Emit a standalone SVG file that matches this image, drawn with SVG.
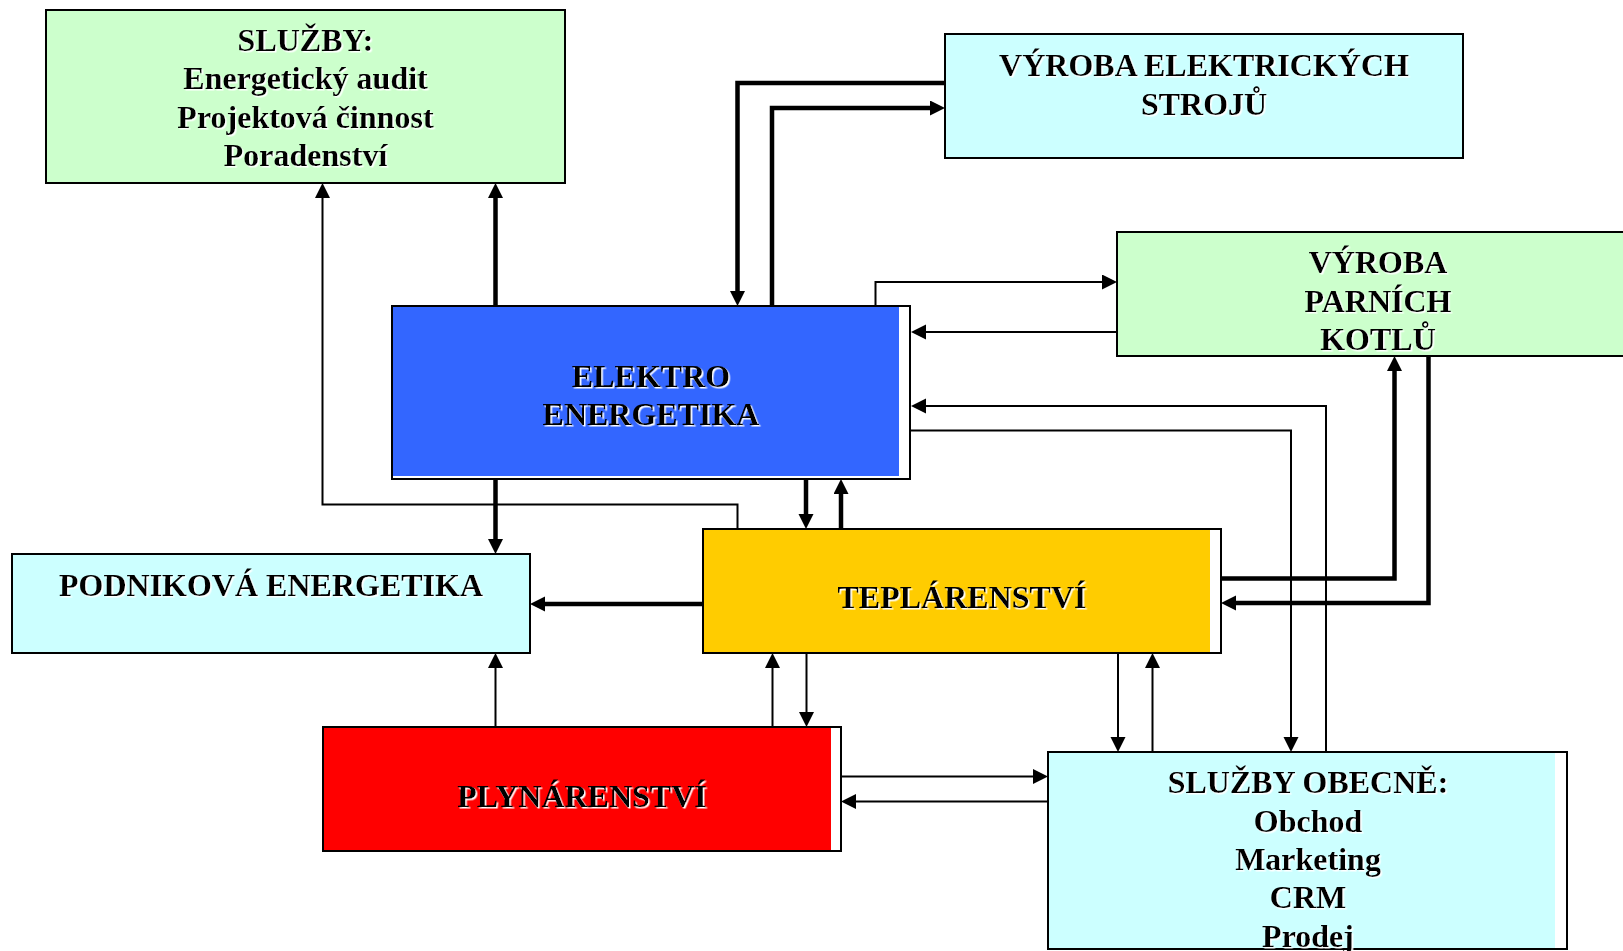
<svg xmlns="http://www.w3.org/2000/svg" width="1623" height="951" viewBox="0 0 1623 951">
<style>
.box{stroke:#000;stroke-width:2}
.t{font-family:"Liberation Serif","Times New Roman",serif;font-weight:bold;font-size:32px;fill:#000;text-anchor:middle;filter:url(#sh)}
.thick{fill:none;stroke:#000;stroke-width:4.5;marker-end:url(#ah)}
.thin{fill:none;stroke:#000;stroke-width:2;marker-end:url(#ah)}
</style>
<defs>
<marker id="ah" markerUnits="userSpaceOnUse" markerWidth="16" markerHeight="16" refX="0" refY="7.5" orient="auto" viewBox="0 0 16 16">
<path d="M0,0 L15,7.5 L0,15 z" fill="#000"/>
</marker>
<filter id="sh" x="-5%" y="-20%" width="110%" height="140%">
<feDropShadow dx="1.5" dy="1.5" stdDeviation="0" flood-color="#fff" flood-opacity="1"/>
</filter>
</defs>
<rect width="1623" height="951" fill="#fff"/>

<g id="connectors">
<path class="thick" d="M495.5,306 V198"/>
<path class="thick" d="M945,83 H737.5 V291"/>
<path class="thick" d="M772,306 V108 H930"/>
<path class="thick" d="M495.5,479 V539"/>
<path class="thick" d="M806,479 V514"/>
<path class="thick" d="M841,529 V494"/>
<path class="thick" d="M703,604 H545"/>
<path class="thick" d="M1221,578.5 H1394.5 V371"/>
<path class="thick" d="M1428.5,356 V603 H1236"/>
<path class="thin" d="M737.5,529 V504.5 H322.5 V198"/>
<path class="thin" d="M875.5,306 V282 H1102"/>
<path class="thin" d="M1117,332 H926"/>
<path class="thin" d="M1326,752 V406 H926"/>
<path class="thin" d="M911,430.5 H1291 V737"/>
<path class="thin" d="M495.5,727 V668"/>
<path class="thin" d="M772.5,727 V668"/>
<path class="thin" d="M806.5,653 V712"/>
<path class="thin" d="M1118,653 V737"/>
<path class="thin" d="M1152.5,752 V668"/>
<path class="thin" d="M841,776.5 H1033"/>
<path class="thin" d="M1048,801.5 H856"/>
</g>

<g id="sluzby">
<rect class="box" x="46" y="10" width="519" height="173" fill="#CCFFCC"/>
<text class="t" x="305.5" y="51">SLUŽBY:</text>
<text class="t" x="305.5" y="89">Energetický audit</text>
<text class="t" x="305.5" y="127.5">Projektová činnost</text>
<text class="t" x="305.5" y="166">Poradenství</text>
</g>

<g id="vyroba-el">
<rect class="box" x="945" y="34" width="518" height="124" fill="#CCFFFF"/>
<text class="t" x="1204" y="76">VÝROBA ELEKTRICKÝCH</text>
<text class="t" x="1204" y="115">STROJŮ</text>
</g>

<g id="vyroba-kotlu">
<rect class="box" x="1117" y="232" width="530" height="124" fill="#CCFFCC"/>
<text class="t" x="1378" y="273">VÝROBA</text>
<text class="t" x="1378" y="312">PARNÍCH</text>
<text class="t" x="1378" y="350">KOTLŮ</text>
</g>

<g id="elektro">
<rect class="box" x="392" y="306" width="518" height="173" fill="#fff"/>
<rect x="393" y="307" width="506" height="169" fill="#3366FF"/>
<text class="t" x="651" y="387">ELEKTRO</text>
<text class="t" x="651" y="425">ENERGETIKA</text>
</g>

<g id="podnikova">
<rect class="box" x="12" y="554" width="518" height="99" fill="#CCFFFF"/>
<text class="t" x="271" y="596">PODNIKOVÁ ENERGETIKA</text>
</g>

<g id="teplarenstvi">
<rect class="box" x="703" y="529" width="518" height="124" fill="#fff"/>
<rect x="704" y="530" width="506" height="122" fill="#FFCC00"/>
<text class="t" x="962" y="608">TEPLÁRENSTVÍ</text>
</g>

<g id="plynarenstvi">
<rect class="box" x="323" y="727" width="518" height="124" fill="#fff"/>
<rect x="324" y="728" width="507" height="122" fill="#FF0000"/>
<text class="t" x="582" y="807">PLYNÁRENSTVÍ</text>
</g>

<g id="sluzby-obecne">
<rect class="box" x="1048" y="752" width="519" height="197" fill="#fff"/>
<rect x="1049" y="753" width="506" height="195" fill="#CCFFFF"/>
<text class="t" x="1308" y="793">SLUŽBY OBECNĚ:</text>
<text class="t" x="1308" y="832">Obchod</text>
<text class="t" x="1308" y="870">Marketing</text>
<text class="t" x="1308" y="908">CRM</text>
<text class="t" x="1308" y="947">Prodej</text>
</g>
</svg>
